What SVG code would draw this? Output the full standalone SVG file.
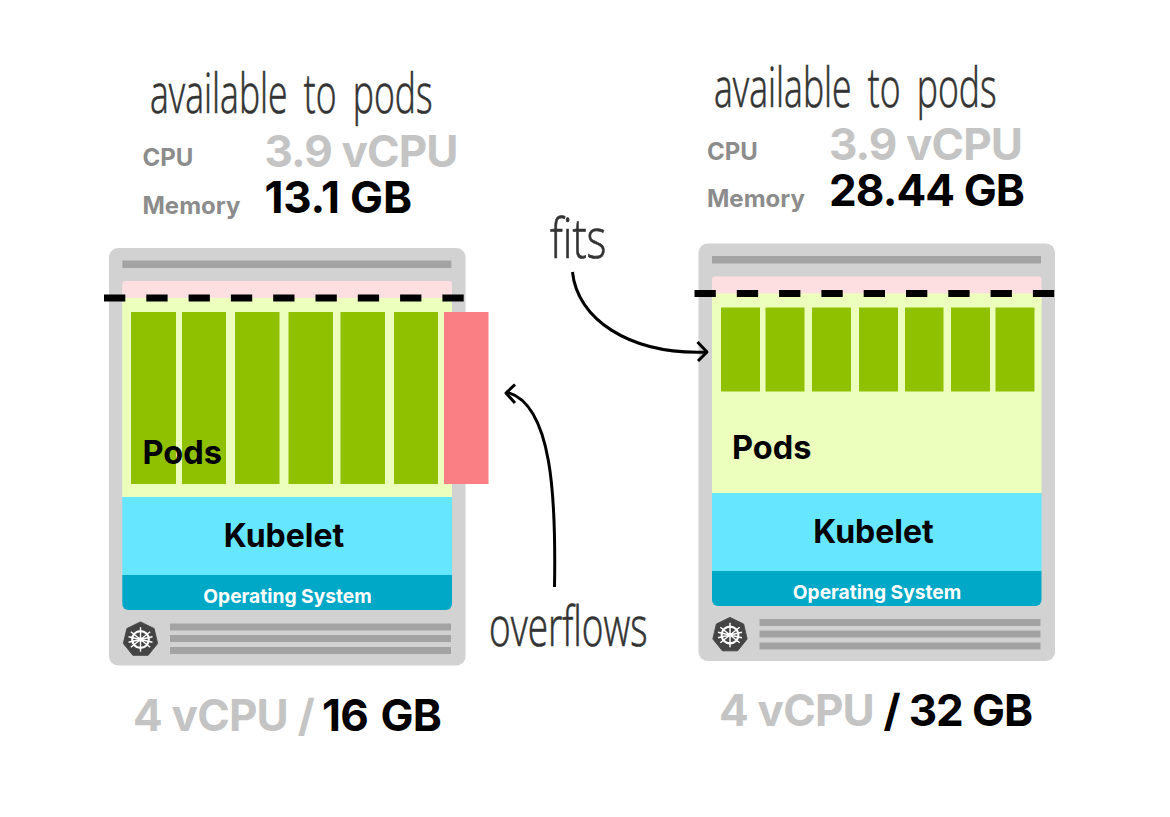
<svg xmlns="http://www.w3.org/2000/svg" xmlns:xlink="http://www.w3.org/1999/xlink" width="1170" height="817" viewBox="0 0 1170 817">
<style>
text{font-family:Inter,"Liberation Sans",sans-serif;font-weight:700}
.card{fill:#d2d2d2}.bar{fill:#a3a3a3}.res{fill:#fddfe1}.alloc{fill:#ecffbd}.pod{fill:#8fc100}.over{fill:#f97f85}
.kub{fill:#66e6ff}.os{fill:#00a8c8}
.lbl{fill:#8c8c8c;font-size:24px}.big{font-size:44px;fill:#c4c4c4;letter-spacing:-.9px}.blk{fill:#000}.mid{font-size:32.500px;fill:#000}
.ost{font-size:19.200px;fill:#fff;text-anchor:middle}.foot{font-size:44px;fill:#c4c4c4;letter-spacing:-.8px}
.hand{font-family:"Open Sans",sans-serif;font-weight:300;fill:#333;stroke:#333;stroke-width:.7px}
.dash{stroke:#000;stroke-width:7;stroke-dasharray:21.3 21;fill:none}
.arrow{stroke:#000;stroke-width:3;fill:none;stroke-linecap:butt;stroke-linejoin:round}
</style>
<defs>
<g id="helm" transform="scale(.88)">
<path d="M0-20 L15.500-12.500 L19.500 4.500 L8.700 18 L-8.700 18 L-19.500 4.500 L-15.500-12.500Z" fill="#444" stroke="#444" stroke-width="1" stroke-linejoin="round"/>
<circle r="9.500" fill="none" stroke="#fff" stroke-width="2.400"/>
<circle r="2.500" fill="#fff"/>
<path d="M0-14V14M-11-8.800L11 8.800M11-8.800L-11 8.800M-13.600 3.100L13.600-3.100M-13.600-3.100L13.600 3.100" stroke="#fff" stroke-width="1.600" fill="none"/>
</g>
</defs>

<g id="node-left">
<rect class="card" x="109" y="248" width="356.500" height="417.500" rx="9"/>
<rect class="bar" x="122.300" y="260.500" width="329" height="7.500"/>
<rect class="res" x="122.300" y="281" width="329.700" height="30" rx="3"/>
<rect class="alloc" x="122.300" y="298" width="329.700" height="199"/>
<rect class="pod" x="131" y="312" width="45" height="172"/>
<rect class="pod" x="182" y="312" width="44" height="172"/>
<rect class="pod" x="235" y="312" width="44.500" height="172"/>
<rect class="pod" x="288.500" y="312" width="44.500" height="172"/>
<rect class="pod" x="340.500" y="312" width="44.500" height="172"/>
<rect class="pod" x="394" y="312" width="44" height="172"/>
<rect class="over" x="444" y="312" width="44.500" height="172"/>
<rect class="kub" x="122.300" y="497" width="329.700" height="78"/>
<path class="os" d="M122.300 575H452V604a6 6 0 0 1-6 6H128.300a6 6 0 0 1-6-6Z"/>
<text class="mid" x="142.500" y="464">Pods</text>
<text class="mid" x="284" y="547" text-anchor="middle" style="font-size:32px">Kubelet</text>
<text class="ost" x="287.500" y="603">Operating System</text>
<g transform="translate(140.500 639.500)"><use xlink:href="#helm" href="#helm"/></g>
<rect class="bar" x="170" y="623.500" width="281" height="7"/>
<rect class="bar" x="170" y="635" width="281" height="7"/>
<rect class="bar" x="170" y="647" width="281" height="7"/>
<path class="dash" d="M104 298H465"/>
<text class="hand" font-size="56" word-spacing="11" transform="translate(150 113) scale(.635 1)">available to pods</text>
<text class="lbl" x="142.500" y="166">CPU</text>
<text class="big" x="264.500" y="167">3.9 vCPU</text>
<text class="lbl" x="142.500" y="213.500">Memory</text>
<text class="big blk" x="264.500" y="213" style="letter-spacing:-.2px">13.1 GB</text>
<text class="foot" x="133" y="731">4 vCPU / <tspan class="blk" x="322" word-spacing="3">16 GB</tspan></text>
</g>

<g id="node-right">
<rect class="card" x="698.500" y="243.500" width="356.500" height="417.500" rx="9"/>
<rect class="bar" x="712" y="256" width="329" height="7.500"/>
<rect class="res" x="712" y="276.500" width="329.500" height="30" rx="3"/>
<rect class="alloc" x="712" y="293.500" width="329.500" height="199.500"/>
<rect class="pod" x="721" y="307.500" width="39" height="84"/>
<rect class="pod" x="765.500" y="307.500" width="39" height="84"/>
<rect class="pod" x="812" y="307.500" width="39" height="84"/>
<rect class="pod" x="859" y="307.500" width="39" height="84"/>
<rect class="pod" x="905" y="307.500" width="38.500" height="84"/>
<rect class="pod" x="951" y="307.500" width="39" height="84"/>
<rect class="pod" x="995.500" y="307.500" width="39" height="84"/>
<rect class="kub" x="712" y="493" width="329.500" height="78"/>
<path class="os" d="M712 571H1041.500V600a6 6 0 0 1-6 6H718a6 6 0 0 1-6-6Z"/>
<text class="mid" x="732" y="459">Pods</text>
<text class="mid" x="873.500" y="543" text-anchor="middle" style="font-size:32px">Kubelet</text>
<text class="ost" x="877" y="599">Operating System</text>
<g transform="translate(730 635)"><use xlink:href="#helm" href="#helm"/></g>
<rect class="bar" x="759.500" y="619" width="281" height="7"/>
<rect class="bar" x="759.500" y="630.500" width="281" height="7"/>
<rect class="bar" x="759.500" y="642.500" width="281" height="7"/>
<path class="dash" d="M694.500 293.500H1055"/>
<text class="hand" font-size="56" word-spacing="11" transform="translate(714 107) scale(.635 1)">available to pods</text>
<text class="lbl" x="707" y="160">CPU</text>
<text class="big" x="829" y="160">3.9 vCPU</text>
<text class="lbl" x="707" y="206.500">Memory</text>
<text class="big blk" x="829" y="206">28.44 GB</text>
<text class="foot" x="719" y="726">4 vCPU <tspan class="blk" x="883.500" style="letter-spacing:-1.100px">/ 32 GB</tspan></text>
</g>

<g id="label-fits"><text class="hand" font-size="56" transform="translate(550 258) scale(.76 1)">fits</text></g>
<g id="label-overflows"><text class="hand" font-size="56" transform="translate(489 646) scale(.66 1)">overflows</text></g>

<g id="connectors">
<path class="arrow" d="M572.500 272C577 318 628 355 707 352"/>
<path class="arrow" stroke-linecap="round" d="M697.500 342L707 352L698 361"/>
<path class="arrow" d="M554.500 587C556 500 553 403 506 392"/>
<path class="arrow" stroke-linecap="round" d="M515 384.500L506 393L515 403"/>
</g>
</svg>
